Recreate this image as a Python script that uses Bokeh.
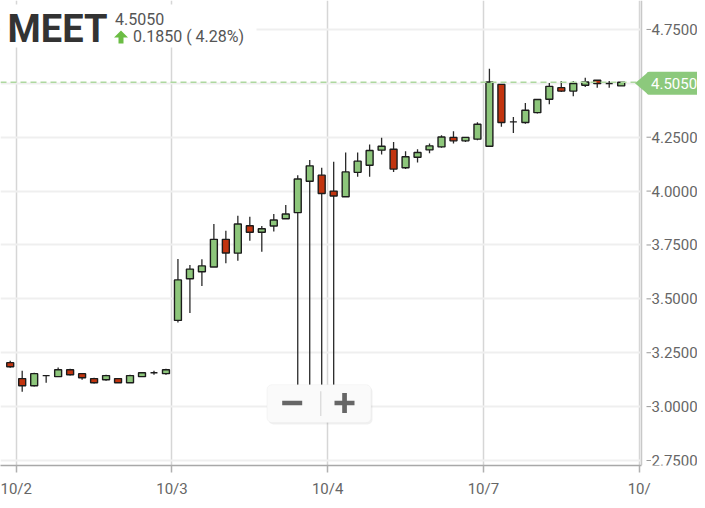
from bokeh.plotting import figure
from bokeh.models import (ColumnDataSource, Range1d, FixedTicker,
                          Label, BoxAnnotation, PolyAnnotation, Span)
from bokeh.core.properties import value
from bokeh.embed import file_html
from bokeh.resources import INLINE

# ---------------- data ----------------
symbol = "MEET"
last_price_text = "4.5050"
change_text = "0.1850 ( 4.28%)"
last_value = 4.505

day_labels = ["10/2", "10/3", "10/4", "10/7", "10/"]
bars_per_day = 13
y_ticks = [2.75, 3.0, 3.25, 3.5, 3.75, 4.0, 4.25, 4.5, 4.75]

# 30-minute bars: last bar of 10/1, then 10/2, 10/3, 10/4, 10/7
opens = [3.204,
         3.130, 3.097, 3.144, 3.139, 3.171, 3.153, 3.130, 3.125, 3.130, 3.111, 3.139, 3.157, 3.153,
         3.400, 3.593, 3.626, 3.648, 3.776, 3.712, 3.839, 3.809, 3.838, 3.872, 3.900, 4.046, 4.074,
         4.000, 3.974, 4.087, 4.120, 4.190, 4.194, 4.108, 4.157, 4.191, 4.205, 4.249, 4.233, 4.241,
         4.208, 4.495, 4.321, 4.318, 4.364, 4.426, 4.480, 4.464, 4.491, 4.514, 4.499, 4.488]
highs = [3.213,
         3.167, 3.157, 3.144, 3.181, 3.176, 3.153, 3.134, 3.148, 3.130, 3.148, 3.157, 3.167, 3.176,
         3.685, 3.657, 3.684, 3.847, 3.816, 3.886, 3.881, 3.838, 3.894, 3.935, 4.074, 4.144, 4.108,
         4.136, 4.179, 4.179, 4.216, 4.247, 4.228, 4.185, 4.194, 4.221, 4.259, 4.278, 4.249, 4.319,
         4.568, 4.495, 4.344, 4.409, 4.425, 4.501, 4.511, 4.511, 4.526, 4.514, 4.511, 4.505]
lows = [3.180,
        3.069, 3.093, 3.111, 3.139, 3.144, 3.125, 3.107, 3.120, 3.111, 3.111, 3.139, 3.148, 3.148,
        3.390, 3.434, 3.560, 3.648, 3.665, 3.677, 3.770, 3.719, 3.812, 3.872, 3.060, 3.060, 3.060,
        3.060, 3.974, 4.066, 4.066, 4.170, 4.089, 4.102, 4.133, 4.175, 4.201, 4.221, 4.228, 4.236,
        4.208, 4.298, 4.270, 4.313, 4.360, 4.403, 4.460, 4.440, 4.483, 4.480, 4.480, 4.488]
closes = [3.185,
          3.097, 3.153, 3.144, 3.171, 3.148, 3.134, 3.111, 3.144, 3.111, 3.144, 3.157, 3.157, 3.171,
          3.588, 3.638, 3.653, 3.776, 3.713, 3.847, 3.809, 3.825, 3.866, 3.894, 4.056, 4.117, 3.989,
          3.977, 4.089, 4.139, 4.188, 4.208, 4.102, 4.159, 4.179, 4.210, 4.251, 4.233, 4.249, 4.310,
          4.506, 4.318, 4.321, 4.375, 4.425, 4.486, 4.464, 4.499, 4.506, 4.499, 4.499, 4.505]

# ---------------- layout helpers (picture pixels) ----------------
FIG_W, FIG_H = 697, 500
FRAME_L, FRAME_R, FRAME_T, FRAME_B = 0, 697, 0, 466
AXIS_PX = 641
BAR0_PX, BAR_PX = 21.7, 11.98
Y_REF_PX, Y_REF_VAL, PX_PER_UNIT = 29.0, 4.75, 216.0

X0 = (FRAME_L - BAR0_PX) / BAR_PX
X1 = (FRAME_R - BAR0_PX) / BAR_PX
Y1 = Y_REF_VAL + (Y_REF_PX - FRAME_T) / PX_PER_UNIT
Y0 = Y_REF_VAL - (FRAME_B - Y_REF_PX) / PX_PER_UNIT


def dx(px):
    return X0 + (px - FRAME_L) * (X1 - X0) / (FRAME_R - FRAME_L)


def dy(py):
    return Y1 - (py - FRAME_T) * (Y1 - Y0) / (FRAME_B - FRAME_T)


X_AXIS = dx(AXIS_PX)
UP, DOWN = "#8dc67b", "#c2340f"
FONT = "Roboto"

xs = list(range(-1, len(opens) - 1))
src = ColumnDataSource(dict(
    x=xs, open=opens, high=highs, low=lows, close=closes,
    top=[max(o, c) for o, c in zip(opens, closes)],
    bottom=[min(o, c) for o, c in zip(opens, closes)],
    color=[UP if c >= o else DOWN for o, c in zip(opens, closes)],
))

day_ticks = [-0.5 + bars_per_day * k for k in range(len(day_labels))]

p = figure(width=FIG_W, height=FIG_H, x_range=Range1d(X0, X1), y_range=Range1d(Y0, Y1),
           y_axis_location=None, output_backend="svg", toolbar_location=None,
           min_border_left=0, min_border_top=0, min_border_right=0,
           min_border_bottom=FIG_H - (FRAME_B - FRAME_T))
p.outline_line_color = None
p.background_fill_color = "white"
p.border_fill_color = "white"

# x axis / grids
p.xaxis.ticker = FixedTicker(ticks=day_ticks)
p.xaxis.major_label_overrides = {t: l for t, l in zip(day_ticks, day_labels)}
p.xaxis.bounds = (X0, X_AXIS)
p.xaxis.major_label_text_font = FONT
p.xaxis.major_label_text_font_size = "15px"
p.xaxis.major_label_text_color = "#666666"
p.xaxis.minor_tick_line_color = None
p.xaxis.axis_line_color = "#a8a8a8"
p.xaxis.axis_line_width = 1.5
p.xaxis.major_tick_line_color = "#b0b0b0"
p.xaxis.major_tick_line_width = 1.5
p.xaxis.major_tick_out = 7
p.xaxis.major_tick_in = 0
p.xaxis.major_label_standoff = 7

p.xgrid.grid_line_color = "#d6d6d6"
p.xgrid.grid_line_width = 1.5
p.ygrid.ticker = FixedTicker(ticks=y_ticks)
p.ygrid.grid_line_color = "#efefef"
p.ygrid.grid_line_width = 2

# right-hand price scale (drawn by hand so the price tag may sit over it)
p.quad(left=X_AXIS, right=X1, top=Y1, bottom=Y0, fill_color="white", line_color=None)
p.add_layout(Span(location=X_AXIS, dimension="height", line_color="#c8c8c8", line_width=1.5))
p.segment(x0=dx(646), x1=dx(650.5), y0=y_ticks, y1=y_ticks, line_color="#999999", line_width=1)
p.text(x=dx(651), y=y_ticks, text=[f"{v:.4f}" for v in y_ticks], text_font=value(FONT),
       text_font_size="15px", text_color="#666666", text_baseline="middle", text_align="left")

# last price dashed line
p.add_layout(Span(location=last_value, dimension="width", line_color="#add89f",
                  line_width=1.5, line_dash="6 4"))

# candles
p.segment(x0="x", y0="high", x1="x", y1="low", source=src, line_color="#2a2a2a", line_width=1.3)
p.vbar(x="x", width=0.58, top="top", bottom="bottom", source=src,
       fill_color="color", line_color="#1c1c1c", line_width=1.4)

# header
p.add_layout(BoxAnnotation(left=dx(0), right=dx(256), top=dy(4), bottom=dy(47),
                           fill_color="white", fill_alpha=1, line_color=None))
p.add_layout(Label(x=dx(7), y=dy(41.7 - 0.35 * 38), text=symbol, text_font=FONT,
                   text_font_style="bold", text_font_size="38px", text_color="#333333",
                   text_baseline="alphabetic"))
p.add_layout(Label(x=dx(114.5), y=dy(24.5 - 0.35 * 16), text=last_price_text, text_font=FONT,
                   text_font_size="16px", text_color="#555555", text_baseline="alphabetic"))
p.add_layout(Label(x=dx(132.5), y=dy(41.8 - 0.35 * 16), text=change_text, text_font=FONT,
                   text_font_size="16px", text_color="#555555", text_baseline="alphabetic"))
p.add_layout(PolyAnnotation(
    xs=[dx(120.5), dx(127.5), dx(123), dx(123), dx(118), dx(118), dx(113.5)],
    ys=[dy(30), dy(37), dy(37), dy(43), dy(43), dy(37), dy(37)],
    fill_color="#6bbd44", fill_alpha=1, line_color=None))

# price tag on the scale
TAG = "#8cc97c"
p.add_layout(PolyAnnotation(xs=[dx(634.5), dx(648), dx(648)], ys=[dy(83), dy(71.5), dy(94.5)],
                            fill_color=TAG, fill_alpha=1, line_color=None))
p.add_layout(BoxAnnotation(left=dx(646), right=dx(700), top=dy(71.5), bottom=dy(94.5),
                           fill_color=TAG, fill_alpha=1, line_color=None, border_radius=3))
p.add_layout(Label(x=dx(650.5), y=dy(83.5), text=last_price_text, text_font=FONT,
                   text_font_size="15px", text_color="white", text_baseline="middle"))

# zoom widget
p.add_layout(BoxAnnotation(left=dx(268), right=dx(372), top=dy(387), bottom=dy(425),
                           fill_color="#000000", fill_alpha=0.06, line_color=None,
                           border_radius=5))
p.add_layout(BoxAnnotation(left=dx(266.5), right=dx(370.5), top=dy(385), bottom=dy(423),
                           fill_color="#fafafa", fill_alpha=1, line_color="#e6e6e6",
                           line_width=1, border_radius=5))
p.add_layout(BoxAnnotation(left=dx(319.8), right=dx(320.8), top=dy(391.5), bottom=dy(416.5),
                           fill_color="#d0d0d0", fill_alpha=1, line_color=None))
for l, r, t, b in [(281.7, 301.7, 401, 405.7), (334, 354, 401, 405.7), (341.7, 346.4, 393.3, 413.3)]:
    p.add_layout(BoxAnnotation(left=dx(l), right=dx(r), top=dy(t), bottom=dy(b),
                               fill_color="#666666", fill_alpha=1, line_color=None))

open("out.html", "w").write(file_html(p, INLINE))
